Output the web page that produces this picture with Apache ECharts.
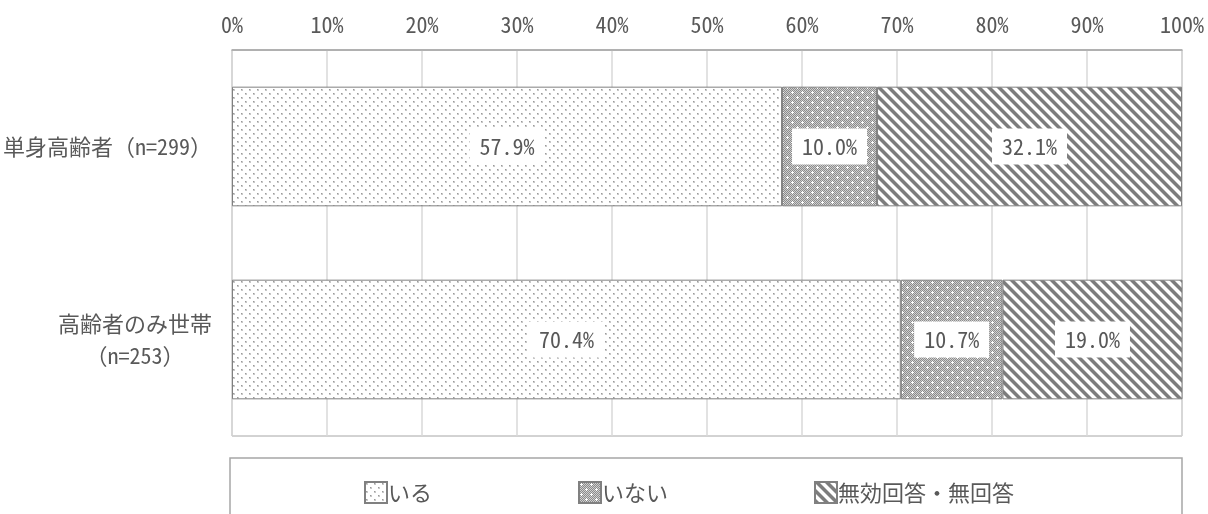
<!DOCTYPE html>
<html><head><meta charset="utf-8">
<script src="https://cdn.jsdelivr.net/npm/echarts@6/dist/echarts.min.js"></script>
<style>html,body{margin:0;padding:0;background:#fff}#c{width:1208px;height:514px}</style>
</head><body><div id="c"></div>
<script>
const categories = ['単身高齢者（n=299）', '高齢者のみ世帯\n（n=253）'];
const seriesNames = ['いる', 'いない', '無効回答・無回答'];
const valIru = [57.9, 70.4];
const valInai = [10.0, 10.7];
const valMuko = [32.1, 19.0];
const tickValues = [0, 10, 20, 30, 40, 50, 60, 70, 80, 90, 100];

const FONT = "'Noto Sans Mono CJK JP', 'Noto Sans CJK JP', sans-serif";
const TXT = '#595959';

function tile(w, h, fn) {
  const c = document.createElement('canvas');
  c.width = w; c.height = h;
  const ctx = c.getContext('2d');
  fn(ctx, w, h);
  return c;
}
const dotPat = tile(8, 8, (ctx, w, h) => {
  ctx.fillStyle = '#fff'; ctx.fillRect(0, 0, w, h);
  ctx.fillStyle = '#c8c8c8';
  ctx.fillRect(1, 1, 2, 2); ctx.fillRect(5, 5, 2, 2);
  ctx.fillStyle = '#9a9a9a';
  ctx.fillRect(1, 1, 1, 1); ctx.fillRect(5, 5, 1, 1);
});
const checkPat = tile(10, 10, (ctx, w, h) => {
  for (let y = 0; y < h; y++) for (let x = 0; x < w; x++) {
    ctx.fillStyle = ((x + y) % 2 === 0) ? '#8c8c8c' : '#cfcfcf';
    ctx.fillRect(x, y, 1, 1);
  }
  ctx.fillStyle = '#fff';
  [[2, 2], [7, 7]].forEach(([x, y]) => {
    ctx.fillRect(x, y, 1, 1); ctx.fillRect(x - 1, y, 1, 1); ctx.fillRect(x + 1, y, 1, 1);
    ctx.fillRect(x, y - 1, 1, 1); ctx.fillRect(x, y + 1, 1, 1);
  });
});
const stripePat = tile(10, 10, (ctx, w, h) => {
  const img = ctx.createImageData(w, h);
  for (let y = 0; y < h; y++) for (let x = 0; x < w; x++) {
    const d = (((x - y) % 10) + 10) % 10;
    let v = 255;
    if (d < 4) v = 125; else if (d === 4 || d === 9) v = 190;
    const i = (y * w + x) * 4;
    img.data[i] = img.data[i + 1] = img.data[i + 2] = v; img.data[i + 3] = 255;
  }
  ctx.putImageData(img, 0, 0);
});
const patterns = [dotPat, checkPat, stripePat];
const values = [valIru, valInai, valMuko];

const chart = echarts.init(document.getElementById('c'), null, { renderer: 'canvas' });
chart.setOption({
  animation: false,
  textStyle: { fontFamily: FONT },
  grid: { left: 230, right: 26, top: 50, bottom: 78, show: true, borderColor: '#a6a6a6', borderWidth: 1 },
  graphic: [{
    type: 'rect', shape: { x: 230, y: 458, width: 952, height: 80 },
    style: { fill: 'none', stroke: '#a6a6a6', lineWidth: 1.5 }, z: 0
  }],
  legend: {
    left: 359, top: 476, itemWidth: 22, itemHeight: 21, itemGap: 146, icon: 'rect',
    textStyle: { fontSize: 22, color: TXT, fontFamily: FONT, padding: [0, 0, 0, -4] },
    data: seriesNames
  },
  xAxis: {
    type: 'value', position: 'top', min: 0, max: 100, interval: 10,
    axisLine: { show: true, lineStyle: { color: '#a6a6a6', width: 1.5 } },
    axisTick: { show: false },
    splitLine: { lineStyle: { color: '#d9d9d9', width: 1.5 } },
    axisLabel: {
      margin: 14, fontSize: 22, color: TXT, fontFamily: FONT,
      formatter: v => (tickValues.indexOf(v) >= 0 ? v + '%' : '')
    }
  },
  yAxis: {
    type: 'category', inverse: true, data: categories,
    axisLine: { show: false }, axisTick: { show: false },
    axisLabel: {
      margin: 20, fontSize: 22, color: TXT, fontFamily: FONT, lineHeight: 32,
      formatter: v => {
        const parts = v.split('\n');
        if (parts.length === 1) return '{a|' + parts[0] + '}';
        return '{a|' + parts[0] + '}\n{b|' + parts[1] + '}';
      },
      rich: {
        a: { fontSize: 22, color: TXT, fontFamily: FONT, lineHeight: 32 },
        b: { fontSize: 22, color: TXT, fontFamily: FONT, lineHeight: 32, width: 154, align: 'center' }
      }
    }
  },
  series: seriesNames.map((n, i) => ({
    name: n, type: 'bar', stack: 'all', barWidth: '62%',
    data: values[i],
    itemStyle: { color: { image: patterns[i], repeat: 'repeat' }, borderColor: '#808080', borderWidth: 1 },
    label: {
      show: true, position: 'inside', fontSize: 22, color: TXT, fontFamily: FONT,
      backgroundColor: '#fff', padding: [8, 10, 6, 10],
      formatter: p => p.value.toFixed(1) + '%'
    }
  }))
});
</script></body></html>
